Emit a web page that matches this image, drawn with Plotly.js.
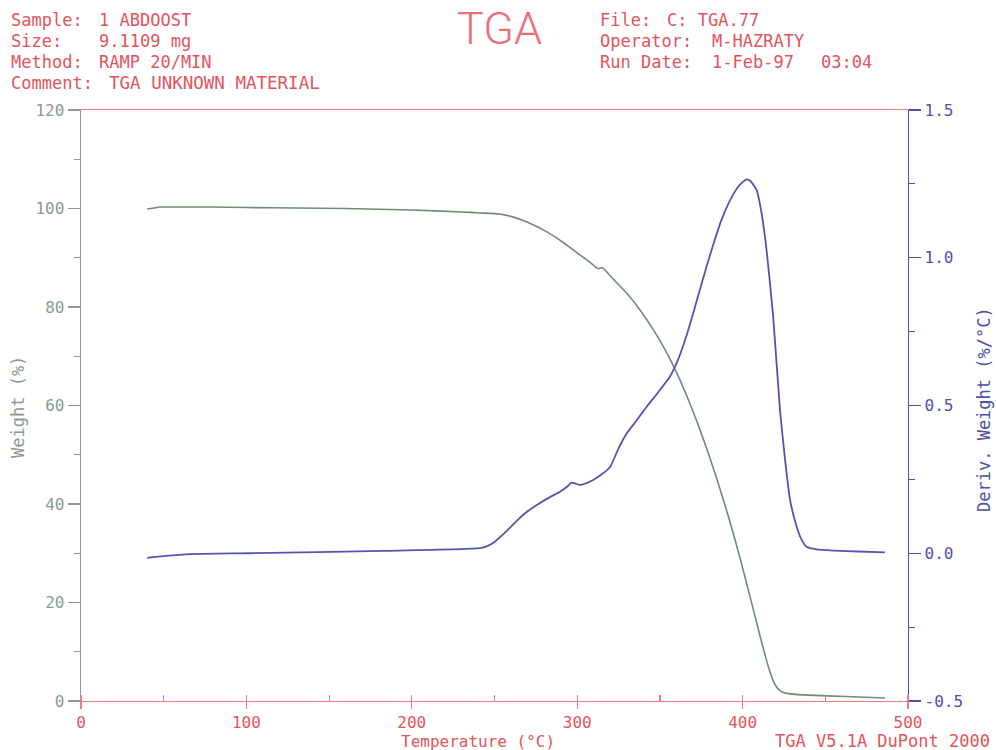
<!DOCTYPE html>
<html>
<head>
<meta charset="utf-8">
<script src="https://cdn.plot.ly/plotly-3.0.1.min.js"></script>
<style>
  html, body { margin: 0; padding: 0; background: #ffffff; }
  #chart { width: 996px; height: 750px; }
</style>
</head>
<body>
<div id="chart"></div>
<script>
// ---- Data ----
const weightTemp = [40, 44, 48, 60, 80, 100, 130, 160, 200, 230, 241, 253, 261, 270, 282, 292, 302, 308, 312, 313, 315, 322, 330, 338, 346, 354, 361, 368, 374, 380, 386, 392, 398, 404.5, 411, 416, 419.5, 422.5, 426, 432, 440, 455, 470, 486];
const weightPct  = [99.9, 100.1, 100.3, 100.3, 100.3, 100.2, 100.1, 100.0, 99.7, 99.3, 99.1, 98.9, 98.3, 97.2, 95.2, 93.0, 90.5, 89.0, 87.9, 87.8, 88.0, 85.6, 82.8, 79.4, 75.4, 70.8, 66.0, 60.5, 55.3, 49.6, 43.4, 36.8, 29.6, 21.2, 12.6, 6.5, 3.4, 2.1, 1.6, 1.35, 1.2, 1.0, 0.8, 0.6];

const derivTemp = [40, 50, 66, 102, 183, 241, 246, 250, 255, 260, 265, 270, 277.5, 283.5, 289.6, 294, 296.6, 299, 301.7, 305, 309.6, 315, 320, 325, 330, 336, 342, 349, 356, 361, 366, 370, 374, 378, 382, 387, 392, 397, 400, 402.5, 405, 408.5, 411.5, 414.5, 418.5, 422.6, 425.6, 428.7, 432.7, 435.5, 438.7, 444.8, 455, 470, 486];
const derivVal  = [-0.016, -0.010, -0.003, 0.0, 0.008, 0.017, 0.025, 0.038, 0.063, 0.090, 0.118, 0.142, 0.170, 0.190, 0.208, 0.226, 0.239, 0.236, 0.231, 0.236, 0.248, 0.268, 0.293, 0.355, 0.406, 0.450, 0.496, 0.545, 0.597, 0.655, 0.735, 0.810, 0.888, 0.966, 1.040, 1.125, 1.190, 1.238, 1.256, 1.265, 1.258, 1.229, 1.150, 1.026, 0.800, 0.485, 0.320, 0.180, 0.090, 0.048, 0.022, 0.013, 0.009, 0.006, 0.003];

const xTickVals = [0, 100, 200, 300, 400, 500];
const xTickText = ['0', '100', '200', '300', '400', '500'];
const yTickVals = [0, 20, 40, 60, 80, 100, 120];
const yTickText = ['0', '20', '40', '60', '80', '100', '120'];
const y2TickVals = [-0.5, 0.0, 0.5, 1.0, 1.5];
const y2TickText = ['-0.5', '0.0', '0.5', '1.0', '1.5'];

const headerLeftLabels = ['Sample:', 'Size:', 'Method:', 'Comment:'];
const headerLeftValues = ['1 ABDOOST', '9.1109 mg', 'RAMP 20/MIN', 'TGA UNKNOWN MATERIAL'];
const headerRightLabels = ['File:', 'Operator:', 'Run Date:'];
const headerRightValues = ['C: TGA.77', 'M-HAZRATY', '1-Feb-97'];
const runTime = '03:04';

// ---- Styling ----
const RED = '#e4535c';
const RED_LINE = '#f07a80';
const GREEN = '#8a9c8d';
const GREEN_CURVE = '#6f8c74';
const BLUE = '#5050aa';
const BLUE_CURVE = '#5454b2';
const MONO = 'DejaVu Sans Mono, Liberation Mono, monospace';

const W = 996, H = 750;
const M = { l: 81, r: 88, t: 110, b: 49 };
const plotW = W - M.l - M.r, plotH = H - M.t - M.b;
const px = (x) => (x - M.l) / plotW;
const py = (y) => (H - M.b - y) / plotH;

const annotations = [];
function addText(text, x, y, opts) {
  annotations.push(Object.assign({
    text: text, xref: 'paper', yref: 'paper', x: px(x), y: py(y),
    xanchor: 'left', yanchor: 'middle', showarrow: false,
    font: { family: MONO, size: 17, color: RED }
  }, opts || {}));
}
const leftRowsY = [20, 41, 62, 83];
headerLeftLabels.forEach((t, i) => addText(t, 9, leftRowsY[i]));
headerLeftValues.forEach((t, i) => addText(t, i === 3 ? 107 : 97, leftRowsY[i], i === 3 ? { font: { family: MONO, size: 17.5, color: RED } } : {}));
const rightRowsY = [20, 41, 62];
headerRightLabels.forEach((t, i) => addText(t, 598, rightRowsY[i]));
headerRightValues.forEach((t, i) => addText(t, i === 0 ? 665 : 710, rightRowsY[i]));
addText(runTime, 819, 62);

addText('TGA', 499, 29, { xanchor: 'center', font: { family: 'Roboto, Liberation Sans, sans-serif', size: 45, color: '#ee7077', weight: 300 } });
addText('Temperature (°C)', 478, 741, { xanchor: 'center', font: { family: MONO, size: 16, color: RED } });
addText('TGA V5.1A DuPont 2000', 992, 741, { xanchor: 'right', font: { family: MONO, size: 17, color: RED } });
addText('Weight (%)', 18, 407, { xanchor: 'center', textangle: -90, font: { family: MONO, size: 17, color: GREEN } });
addText('Deriv. Weight (%/°C)', 984, 409, { xanchor: 'center', textangle: -90, font: { family: MONO, size: 17, color: BLUE } });

const traces = [
  { x: weightTemp, y: weightPct, type: 'scatter', mode: 'lines', yaxis: 'y',
    line: { color: GREEN_CURVE, width: 1.6, shape: 'spline', smoothing: 0.5 }, hoverinfo: 'skip' },
  { x: derivTemp, y: derivVal, type: 'scatter', mode: 'lines', yaxis: 'y2',
    line: { color: BLUE_CURVE, width: 1.8, shape: 'spline', smoothing: 0.5 }, hoverinfo: 'skip' }
];

const layout = {
  width: W, height: H, margin: M,
  paper_bgcolor: '#ffffff', plot_bgcolor: '#ffffff',
  showlegend: false,
  font: { family: MONO },
  xaxis: {
    range: [0, 500], tickvals: xTickVals, ticktext: xTickText,
    ticks: 'outside', ticklen: 7, tickwidth: 1.2, tickcolor: RED_LINE,
    showline: true, linecolor: RED_LINE, linewidth: 1.2, mirror: true,
    showgrid: false, zeroline: false,
    tickfont: { family: MONO, size: 16, color: RED },
    minor: { dtick: 50, ticks: 'inside', ticklen: 6, tickwidth: 1.2, tickcolor: RED_LINE, showgrid: false }
  },
  yaxis: {
    range: [0, 120], tickvals: yTickVals, ticktext: yTickText,
    ticks: 'outside', ticklen: 12, tickwidth: 1.2, tickcolor: GREEN,
    showline: true, linecolor: GREEN, linewidth: 1.4,
    showgrid: false, zeroline: false,
    tickfont: { family: MONO, size: 16, color: GREEN },
    minor: { dtick: 10, ticks: 'outside', ticklen: 6, tickwidth: 1.2, tickcolor: GREEN, showgrid: false }
  },
  yaxis2: {
    range: [-0.5, 1.5], tickvals: y2TickVals, ticktext: y2TickText,
    overlaying: 'y', side: 'right',
    ticks: 'outside', ticklen: 12, tickwidth: 1.2, tickcolor: BLUE,
    showline: true, linecolor: BLUE, linewidth: 1.4,
    showgrid: false, zeroline: false,
    tickfont: { family: MONO, size: 16, color: BLUE },
    minor: { dtick: 0.25, ticks: 'outside', ticklen: 6, tickwidth: 1.2, tickcolor: BLUE, showgrid: false }
  },
  annotations: annotations
};

Plotly.newPlot('chart', traces, layout, { displayModeBar: false, staticPlot: true });
</script>
</body>
</html>
